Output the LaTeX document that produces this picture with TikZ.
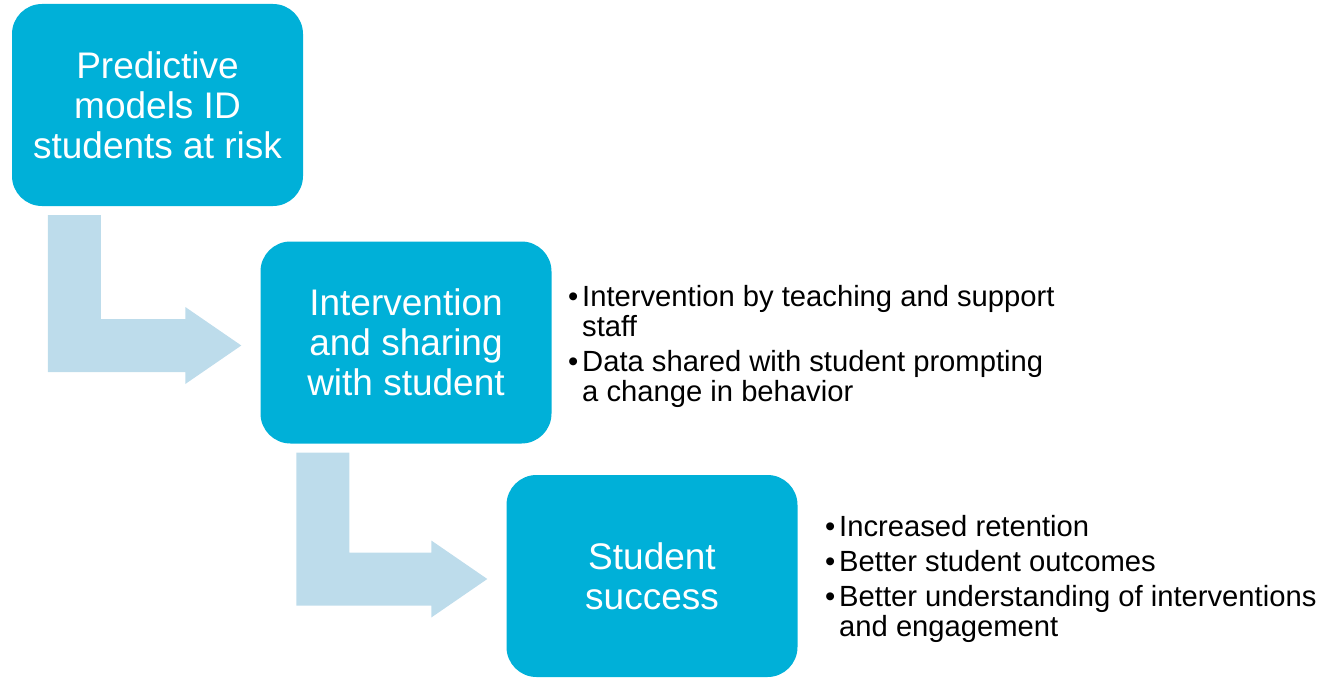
\documentclass[tikz,border=0pt]{standalone}
\usepackage{fontspec}
\setmainfont{Liberation Sans}
\usetikzlibrary{calc}

\definecolor{boxblue}{RGB}{0,176,216}
\definecolor{arrowblue}{RGB}{189,220,235}

\tikzset{
    stepbox/.style={rectangle, rounded corners=30pt, fill=boxblue, text=white,
        minimum width=291pt, minimum height=202pt, inner sep=0pt, align=center,
        font=\fontsize{37}{40}\selectfont},
    bullets/.style={anchor=base west, inner sep=0pt, font=\fontsize{29.2}{30}\selectfont}
}

% one bullet, lines broken by hand
\newcommand{\bulletitem}[1]{\begin{tabular}[t]{@{}l@{}l@{}}\makebox[14pt][l]{\textbullet}&\begin{tabular}[t]{@{}l@{}}#1\end{tabular}\end{tabular}}

% bent arrow from below one box to the left side of the next
\newcommand{\bentarrow}[2]{%
    \fill[arrowblue] let \p1=($(#1.south west)+(36,9)$), \p2=($(#2.west)+(-19,3)$) in
        (\x1,\y1) -- (\x1+53pt,\y1) -- (\x1+53pt,\y2+26.5pt) -- (\x2-56pt,\y2+26.5pt)
        -- (\x2-56pt,\y2+38.5pt) -- (\p2) -- (\x2-56pt,\y2-38.5pt)
        -- (\x2-56pt,\y2-26.5pt) -- (\x1,\y2-26.5pt) -- cycle;
}

\begin{document}
\begin{tikzpicture}[x=1pt, y=-1pt]
    \useasboundingbox (0,0) rectangle (1327,677);

    \node[stepbox] (models) at (157.5,105) {Predictive\\models ID\\students at risk};
    \node[stepbox] (share) at (406,342.5) {Intervention\\and sharing\\with student};
    \node[stepbox] (success) at (652,576) {Student\\success};

    \bentarrow{models}{share}
    \bentarrow{share}{success}

    \node[bullets] at (568,306) {\bulletitem{Intervention by teaching and support\\staff}};
    \node[bullets] at (568,371) {\bulletitem{Data shared with student prompting\\a change in behavior}};

    \node[bullets] at (825,536) {\bulletitem{Increased retention}};
    \node[bullets] at (825,571) {\bulletitem{Better student outcomes}};
    \node[bullets] at (825,606) {\bulletitem{Better understanding of interventions\\and engagement}};
\end{tikzpicture}
\end{document}
